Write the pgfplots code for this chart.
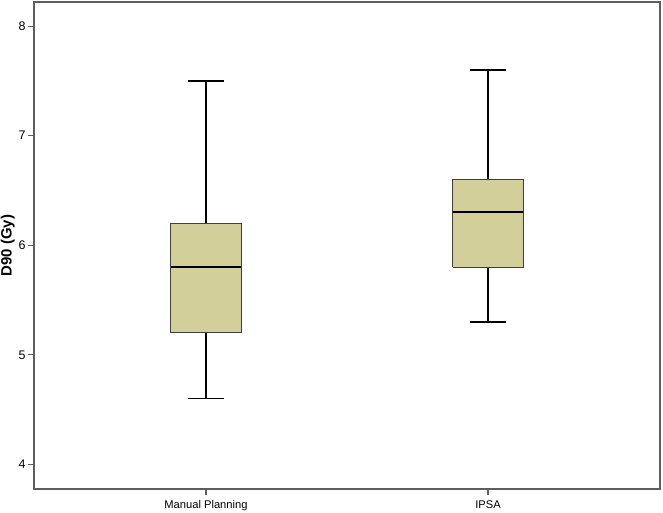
\documentclass[border=0pt]{standalone}
\usepackage{fontspec}
\setmainfont{Liberation Sans}
\usepackage{pgfplots}
\pgfplotsset{compat=1.18}
\definecolor{boxtan}{HTML}{D3CF9A}
\definecolor{framegray}{HTML}{5E5E5E}
\begin{document}
\begin{tikzpicture}
\begin{axis}[
  scale only axis,
  width=626bp, height=487bp,
  xmin=0.39, xmax=2.61,
  ymin=3.775, ymax=8.22,
  axis line style={framegray, line width=1.4bp},
  xtick={1,2},
  xticklabels={Manual Planning, IPSA},
  ytick={4,5,6,7,8},
  tick align=outside,
  tick pos=left,
  major tick length=6bp,
  tick style={framegray, line width=1.2bp},
  x tick label style={font=\fontsize{11.2}{12}\selectfont, yshift=-2bp},
  y tick label style={font=\fontsize{12.5}{14}\selectfont, xshift=1bp},
  /pgf/number format/assume math mode=true,
  ylabel={\textbf{D90 (Gy)}},
  ylabel style={font=\fontsize{15}{16}\selectfont, yshift=-3bp},
  whisk/.style={black, line width=1.4bp, mark=none, forget plot},
  box/.style={draw=black!75, line width=0.8bp, fill=boxtan, mark=none, forget plot},
  med/.style={black, line width=2.2bp, mark=none, forget plot},
]
% Manual Planning: whiskers 4.6 / 7.5, quartiles 5.2 / 6.2, median 5.8
\addplot[whisk] coordinates {(1,6.2) (1,7.5)};
\addplot[whisk] coordinates {(1,5.2) (1,4.6)};
\addplot[whisk] coordinates {(0.936,7.5) (1.064,7.5)};
\addplot[whisk] coordinates {(0.936,4.6) (1.064,4.6)};
\addplot[box] coordinates {(0.875,5.2) (1.125,5.2) (1.125,6.2) (0.875,6.2) (0.875,5.2)};
\addplot[med] coordinates {(0.875,5.8) (1.125,5.8)};
% IPSA: whiskers 5.3 / 7.6, quartiles 5.8 / 6.6, median 6.3
\addplot[whisk] coordinates {(2,6.6) (2,7.6)};
\addplot[whisk] coordinates {(2,5.8) (2,5.3)};
\addplot[whisk] coordinates {(1.936,7.6) (2.064,7.6)};
\addplot[whisk] coordinates {(1.936,5.3) (2.064,5.3)};
\addplot[box] coordinates {(1.875,5.8) (2.125,5.8) (2.125,6.6) (1.875,6.6) (1.875,5.8)};
\addplot[med] coordinates {(1.875,6.3) (2.125,6.3)};
\end{axis}
\pgfresetboundingbox
\path[use as bounding box] (-34bp,-24bp) rectangle (629bp,489bp);
\end{tikzpicture}
\end{document}
